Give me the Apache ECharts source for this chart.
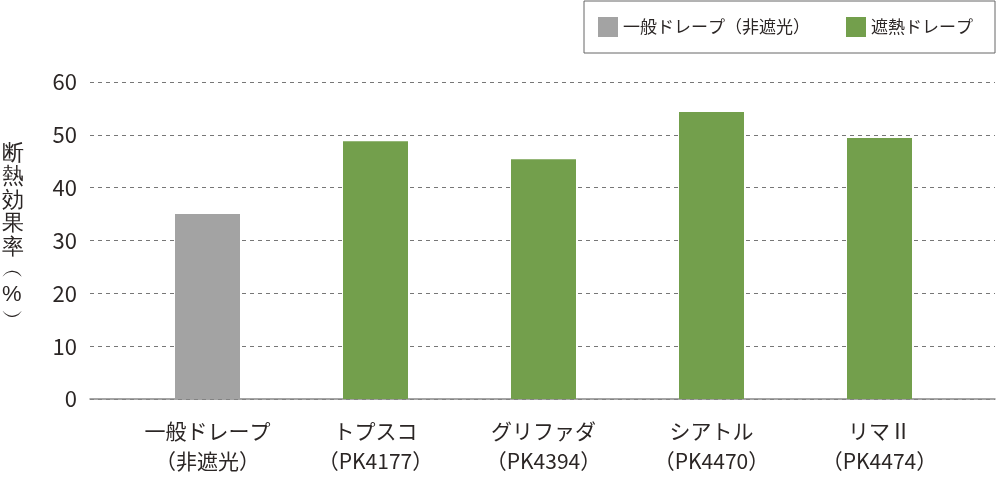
<!DOCTYPE html>
<html><head><meta charset="utf-8">
<script src="https://cdn.jsdelivr.net/npm/echarts@6/dist/echarts.min.js"></script>
<style>html,body{margin:0;padding:0;background:#fff}#c{width:1000px;height:478px}</style>
</head><body><div id="c"></div>
<script>
const categories = ['一般ドレープ\n（非遮光）','トプスコ\n（PK4177）','グリファダ\n（PK4394）','シアトル\n（PK4470）','リマⅡ\n（PK4474）'];
const seriesNames = ['一般ドレープ（非遮光）','遮熱ドレープ'];
const plainValues = [35, '-', '-', '-', '-'];
const shadingValues = ['-', 48.8, 45.4, 54.3, 49.4];
const yTicks = {min: 0, max: 60, interval: 10};
const axisName = ['断','熱','効','果','率','︵','%','︶'];

const FONT = '"Noto Sans CJK JP", "Noto Sans", sans-serif';
const TXT = '#2b2625';
const chart = echarts.init(document.getElementById('c'));
chart.setOption({
  animation: false,
  textStyle: {fontFamily: FONT},
  grid: [
    {left: 90, right: 5, top: 82, bottom: 79},
    {left: 123.5, right: 36.5, top: 82, bottom: 79}
  ],
  legend: {
    right: 5, top: 1,
    data: seriesNames,
    itemWidth: 20, itemHeight: 20, itemGap: 36,
    padding: [16, 22, 16, 14],
    borderColor: '#666', borderWidth: 1,
    textStyle: {fontSize: 17, color: TXT, fontFamily: FONT},
    icon: 'rect'
  },
  xAxis: [
    {gridIndex: 0, type: 'value', min: 0, max: 1, axisLine: {show: true, lineStyle: {color: '#888', width: 1.5}}, axisTick: {show: false}, axisLabel: {show: false}, splitLine: {show: false}},
    {gridIndex: 1, type: 'category', data: categories, axisLine: {show: false}, axisTick: {show: false},
     axisLabel: {fontSize: 21, color: TXT, lineHeight: 30, margin: 17, interval: 0, fontFamily: FONT}}
  ],
  yAxis: [
    {gridIndex: 0, type: 'value', min: yTicks.min, max: yTicks.max, interval: yTicks.interval,
     axisLine: {show: false}, axisTick: {show: false},
     axisLabel: {fontSize: 22, color: TXT, margin: 13, fontFamily: FONT},
     splitLine: {lineStyle: {color: '#777', type: [4, 4], width: 1}}},
    {gridIndex: 1, type: 'value', min: yTicks.min, max: yTicks.max, interval: yTicks.interval, show: false, splitLine: {show: false}}
  ],
  graphic: [{
    type: 'text', left: 2, top: 142,
    style: {text: axisName.join('\n'), fontSize: 22, lineHeight: 23.5, fill: TXT, font: '22px ' + FONT, align: 'center'}
  }],
  series: [
    {name: seriesNames[0], type: 'bar', xAxisIndex: 1, yAxisIndex: 1, stack: 's', barWidth: 65, data: plainValues, itemStyle: {color: '#a3a3a3'}},
    {name: seriesNames[1], type: 'bar', xAxisIndex: 1, yAxisIndex: 1, stack: 's', barWidth: 65, data: shadingValues, itemStyle: {color: '#739f4c'}}
  ]
});
</script></body></html>
